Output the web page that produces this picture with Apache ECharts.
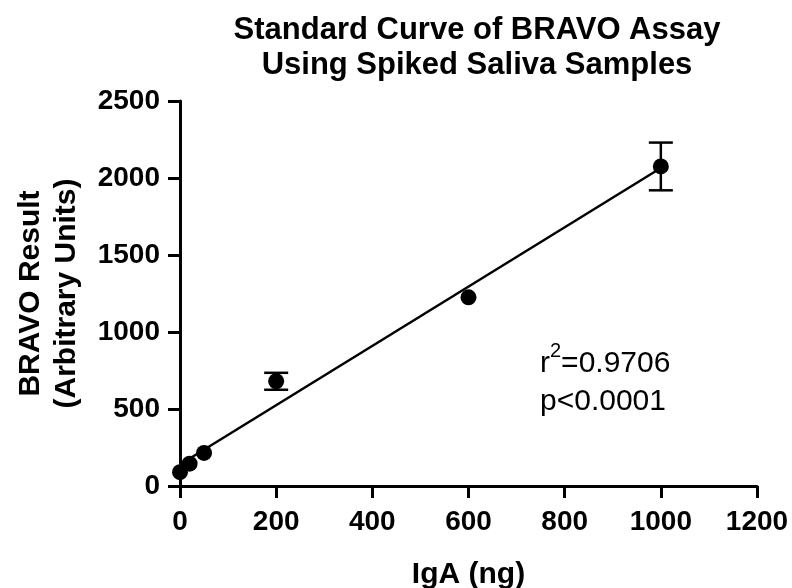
<!DOCTYPE html>
<html>
<head>
<meta charset="utf-8">
<script src="https://cdn.jsdelivr.net/npm/echarts@6/dist/echarts.min.js"></script>
<style>html,body{margin:0;padding:0;background:#fff}#c{width:792px;height:588px}</style>
</head>
<body>
<div id="c"></div>
<script>
// Data
const iga = [0, 20, 50, 200, 600, 1000];          // IgA (ng)
const bravo = [90, 145, 215, 680, 1225, 2075];    // BRAVO result (mean)
const errSD = [0, 0, 0, 55, 0, 155];              // error bar half-length
const fitX = [0, 1000];                           // regression line ends (read)
const fitY = [140, 2065];
const xTicks = [0, 200, 400, 600, 800, 1000, 1200];
const yTicks = [0, 500, 1000, 1500, 2000, 2500];

const FONT = '"Liberation Sans", Arial, Helvetica, sans-serif';
const chart = echarts.init(document.getElementById('c'), null, {renderer: 'canvas'});

const points = iga.map((x, i) => [x, bravo[i]]);
const errData = iga.map((x, i) => [x, bravo[i] - errSD[i], bravo[i] + errSD[i]]).filter((d, i) => errSD[i] > 0);
const fitData = fitX.map((x, i) => [x, fitY[i]]);

chart.setOption({
  animation: false,
  backgroundColor: '#fff',
  title: {
    text: 'Standard Curve of BRAVO Assay\nUsing Spiked Saliva Samples',
    left: 472, top: 8, textAlign: 'center',
    textStyle: {fontFamily: FONT, fontWeight: 'bold', fontSize: 31, lineHeight: 35, color: '#000'}
  },
  grid: {left: 180, right: 35, top: 101, bottom: 102, containLabel: false, outerBoundsMode: 'none'},
  xAxis: {
    type: 'value', min: 0, max: 1200, interval: 200,
    name: 'IgA (ng)', nameLocation: 'middle', nameGap: 74,
    nameTextStyle: {fontFamily: FONT, fontWeight: 'bold', fontSize: 30, color: '#000'},
    axisLine: {show: true, lineStyle: {color: '#000', width: 3}},
    axisTick: {show: true, inside: false, length: 12, lineStyle: {color: '#000', width: 3}},
    axisLabel: {margin: 22, fontFamily: FONT, fontWeight: 'bold', fontSize: 28, color: '#000',
      formatter: v => xTicks.includes(v) ? String(v) : ''},
    splitLine: {show: false}
  },
  yAxis: {
    type: 'value', min: 0, max: 2500, interval: 500,
    name: 'BRAVO Result\n(Arbitrary Units)', nameLocation: 'middle', nameGap: 95, nameRotate: 90,
    nameTextStyle: {fontFamily: FONT, fontWeight: 'bold', fontSize: 30, lineHeight: 36, color: '#000'},
    axisLine: {show: true, onZero: false, lineStyle: {color: '#000', width: 3}},
    axisTick: {show: true, inside: false, length: 12, lineStyle: {color: '#000', width: 3}},
    axisLabel: {margin: 20, fontFamily: FONT, fontWeight: 'bold', fontSize: 28, color: '#000',
      formatter: v => yTicks.includes(v) ? String(v) : ''},
    splitLine: {show: false}
  },
  graphic: [{
    type: 'text', left: 540, top: 341,
    style: {
      text: '{b|r}{s|2}{b|=0.9706}\n{b|p<0.0001}',
      fill: '#000',
      rich: {
        b: {fontFamily: FONT, fontSize: 30, lineHeight: 38, fill: '#000', verticalAlign: 'bottom'},
        s: {fontFamily: FONT, fontSize: 20, lineHeight: 38, fill: '#000', verticalAlign: 'top', padding: [0, 0, 10, 0]}
      }
    }
  }],
  series: [
    {
      type: 'line', data: fitData, showSymbol: false, symbol: 'none',
      lineStyle: {color: '#000', width: 2.5}, z: 2
    },
    {
      type: 'custom', z: 3,
      renderItem: (params, api) => {
        const x = api.value(0);
        const lo = api.coord([x, api.value(1)]);
        const hi = api.coord([x, api.value(2)]);
        const hw = 12;
        const st = {stroke: '#000', lineWidth: 2.5};
        return {type: 'group', children: [
          {type: 'line', shape: {x1: lo[0], y1: lo[1], x2: hi[0], y2: hi[1]}, style: st},
          {type: 'line', shape: {x1: lo[0] - hw, y1: lo[1], x2: lo[0] + hw, y2: lo[1]}, style: st},
          {type: 'line', shape: {x1: hi[0] - hw, y1: hi[1], x2: hi[0] + hw, y2: hi[1]}, style: st}
        ]};
      },
      data: errData
    },
    {
      type: 'scatter', data: points, symbol: 'circle', symbolSize: 16,
      itemStyle: {color: '#000', opacity: 1}, z: 4
    }
  ]
});
</script>
</body>
</html>
